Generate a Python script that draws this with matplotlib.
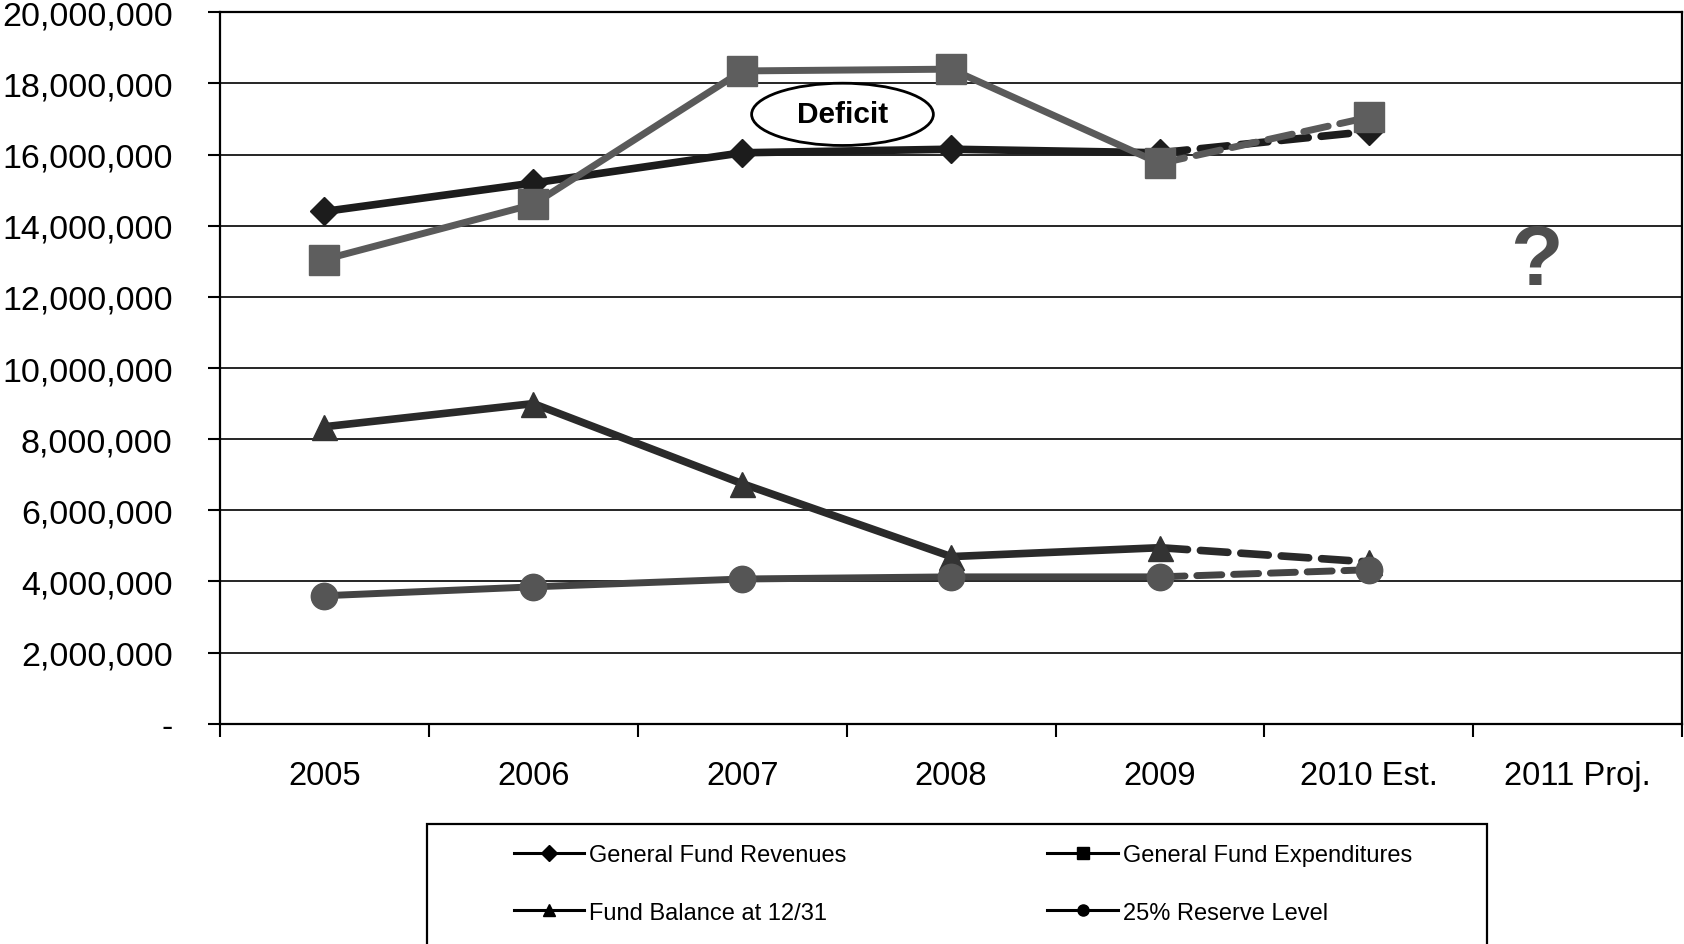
import matplotlib
matplotlib.use("Agg")
import matplotlib.pyplot as plt
from matplotlib.lines import Line2D
from matplotlib.patches import Ellipse, Rectangle
from matplotlib.ticker import FuncFormatter, FixedLocator

plt.rcParams["font.family"] = ["Liberation Sans", "DejaVu Sans"]

categories = ["2005", "2006", "2007", "2008", "2009", "2010 Est.", "2011 Proj."]

# actuals 2005-2009, 2010 estimate drawn dashed from 2009
revenues = [14.40e6, 15.20e6, 16.05e6, 16.15e6, 16.05e6, 16.65e6]
expenditures = [13.05e6, 14.60e6, 18.35e6, 18.40e6, 15.75e6, 17.05e6]
fund_balance = [8.35e6, 9.00e6, 6.75e6, 4.70e6, 4.95e6, 4.55e6]
reserve_level = [3.60e6, 3.85e6, 4.07e6, 4.13e6, 4.13e6, 4.33e6]

series = [
    ("General Fund Revenues", revenues, "#1c1c1c", "D", 14, "#1c1c1c", 5.5),
    ("General Fund Expenditures", expenditures, "#5a5a5a", "s", 22, "#5e5e5e", 5.0),
    ("Fund Balance at 12/31", fund_balance, "#2a2a2a", "^", 18, "#333333", 5.5),
    ("25% Reserve Level", reserve_level, "#444444", "o", 19, "#555555", 5.0),
]

fig = plt.figure(figsize=(16.84, 9.45), dpi=100)
ax = fig.add_axes([0.1306, 0.233, 0.8684, 0.753])

x = list(range(len(categories)))
for label, vals, color, marker, ms, mcolor, lw in series:
    ax.plot(x[:5], vals[:5], color=color, lw=lw, solid_capstyle="round", zorder=3)
    ax.plot(x[4:6], vals[4:6], color=color, lw=lw, linestyle=(0, (3.6, 1.7)),
            dash_capstyle="round", zorder=3)
    ax.plot(x[:6], vals, linestyle="none", marker=marker, markersize=ms,
            markerfacecolor=mcolor, markeredgecolor=mcolor, zorder=4)

ax.set_xlim(-0.5, 6.5)
ax.set_ylim(0, 20e6)
ax.set_yticks([i * 2e6 for i in range(11)])
ax.yaxis.set_major_formatter(FuncFormatter(lambda v, _: "-" if v == 0 else f"{v:,.0f}"))
ax.grid(axis="y", color="black", lw=1.2)
ax.set_axisbelow(True)

ax.set_xticks(x)
ax.set_xticklabels(categories)
ax.xaxis.set_minor_locator(FixedLocator([i - 0.5 for i in range(len(categories) + 1)]))
ax.tick_params(axis="x", which="major", length=0, pad=26, labelsize=23.5)
ax.tick_params(axis="x", which="minor", length=9, width=1.5, direction="out")
ax.tick_params(axis="y", length=9, width=1.5, direction="out", pad=25, labelsize=24.5)

for side in ["left", "bottom", "top", "right"]:
    ax.spines[side].set_linewidth(1.6)
    ax.spines[side].set_color("black")

# annotations
ax.add_patch(Ellipse((2.48, 17.13e6), 0.87, 1.75e6, facecolor="white",
                     edgecolor="black", lw=2.0, zorder=5))
ax.text(2.48, 17.13e6, "Deficit", ha="center", va="center", fontsize=21.5,
        fontweight="bold", zorder=6)
ax.text(5.8, 12.97e6, "?", ha="center", va="center", fontsize=62,
        fontweight="bold", color="#4e4e4e")

# legend with a plain rectangular box
handles = [
    Line2D([], [], color="black", lw=2.2, marker=m, markersize=8,
           markerfacecolor="black", markeredgecolor="black")
    for m in ["D", "s", "^", "o"]
]
labels = [s[0] for s in series]
order = [0, 2, 1, 3]
fig.legend([handles[i] for i in order], [labels[i] for i in order],
           loc="upper left", bbox_to_anchor=(0.298, 0.118), ncol=2,
           frameon=False, borderpad=0, handlelength=3.0, handletextpad=0.2,
           columnspacing=8.5, labelspacing=1.5, fontsize=17)
fig.add_artist(Rectangle((0.2536, -0.01), 0.6293, 0.137, transform=fig.transFigure,
                         fill=False, edgecolor="black", lw=1.6))

fig.savefig("out.png", dpi=100, facecolor="white")
